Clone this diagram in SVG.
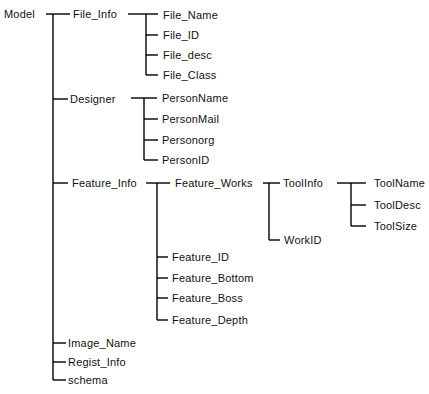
<svg xmlns="http://www.w3.org/2000/svg" width="429" height="394" viewBox="0 0 429 394">
<style>
text{font-family:"Liberation Sans",Arial,sans-serif;font-size:11px;fill:#111;dominant-baseline:central;letter-spacing:0.2px}
.c line{stroke:#000;stroke-width:1.4}
</style>
<rect width="429" height="394" fill="#fff"/>
<g class="c" id="connectors">
<line x1="46" y1="14" x2="70" y2="14"/>
<line x1="53" y1="14" x2="53" y2="380"/>
<line x1="53" y1="99" x2="68" y2="99"/>
<line x1="53" y1="183" x2="68" y2="183"/>
<line x1="53" y1="343" x2="66" y2="343"/>
<line x1="53" y1="362" x2="66" y2="362"/>
<line x1="53" y1="380" x2="66" y2="380"/>
<line x1="128" y1="14" x2="158" y2="14"/>
<line x1="146" y1="14" x2="146" y2="75"/>
<line x1="146" y1="35" x2="158" y2="35"/>
<line x1="146" y1="55" x2="158" y2="55"/>
<line x1="146" y1="75" x2="158" y2="75"/>
<line x1="131" y1="98" x2="157" y2="98"/>
<line x1="144" y1="98" x2="144" y2="160"/>
<line x1="144" y1="119" x2="158" y2="119"/>
<line x1="144" y1="140" x2="158" y2="140"/>
<line x1="144" y1="160" x2="158" y2="160"/>
<line x1="146" y1="183" x2="170" y2="183"/>
<line x1="157" y1="183" x2="157" y2="320"/>
<line x1="157" y1="257" x2="168" y2="257"/>
<line x1="157" y1="278" x2="168" y2="278"/>
<line x1="157" y1="298" x2="168" y2="298"/>
<line x1="157" y1="320" x2="168" y2="320"/>
<line x1="263" y1="183" x2="280" y2="183"/>
<line x1="269" y1="183" x2="269" y2="240"/>
<line x1="269" y1="240" x2="280" y2="240"/>
<line x1="337" y1="183" x2="366" y2="183"/>
<line x1="351" y1="183" x2="351" y2="226"/>
<line x1="351" y1="205" x2="366" y2="205"/>
<line x1="351" y1="226" x2="366" y2="226"/>
</g>
<g id="Model"><text x="4" y="14">Model</text></g>
<g id="File_Info"><text x="73" y="14">File_Info</text></g>
<g id="File_Name"><text x="163" y="15">File_Name</text></g>
<g id="File_ID"><text x="163" y="35">File_ID</text></g>
<g id="File_desc"><text x="163" y="55">File_desc</text></g>
<g id="File_Class"><text x="163" y="75">File_Class</text></g>
<g id="Designer"><text x="70" y="99">Designer</text></g>
<g id="PersonName"><text x="162" y="98">PersonName</text></g>
<g id="PersonMail"><text x="162" y="119">PersonMail</text></g>
<g id="Personorg"><text x="162" y="140">Personorg</text></g>
<g id="PersonID"><text x="162" y="160">PersonID</text></g>
<g id="Feature_Info"><text x="72" y="183">Feature_Info</text></g>
<g id="Feature_Works"><text x="175" y="183">Feature_Works</text></g>
<g id="ToolInfo"><text x="283" y="183">ToolInfo</text></g>
<g id="ToolName"><text x="374" y="183">ToolName</text></g>
<g id="ToolDesc"><text x="374" y="205">ToolDesc</text></g>
<g id="ToolSize"><text x="374" y="226">ToolSize</text></g>
<g id="WorkID"><text x="284" y="240">WorkID</text></g>
<g id="Feature_ID"><text x="172" y="257">Feature_ID</text></g>
<g id="Feature_Bottom"><text x="172" y="278">Feature_Bottom</text></g>
<g id="Feature_Boss"><text x="172" y="298">Feature_Boss</text></g>
<g id="Feature_Depth"><text x="172" y="320">Feature_Depth</text></g>
<g id="Image_Name"><text x="68" y="343">Image_Name</text></g>
<g id="Regist_Info"><text x="68" y="362">Regist_Info</text></g>
<g id="schema"><text x="68" y="380">schema</text></g>
</svg>
